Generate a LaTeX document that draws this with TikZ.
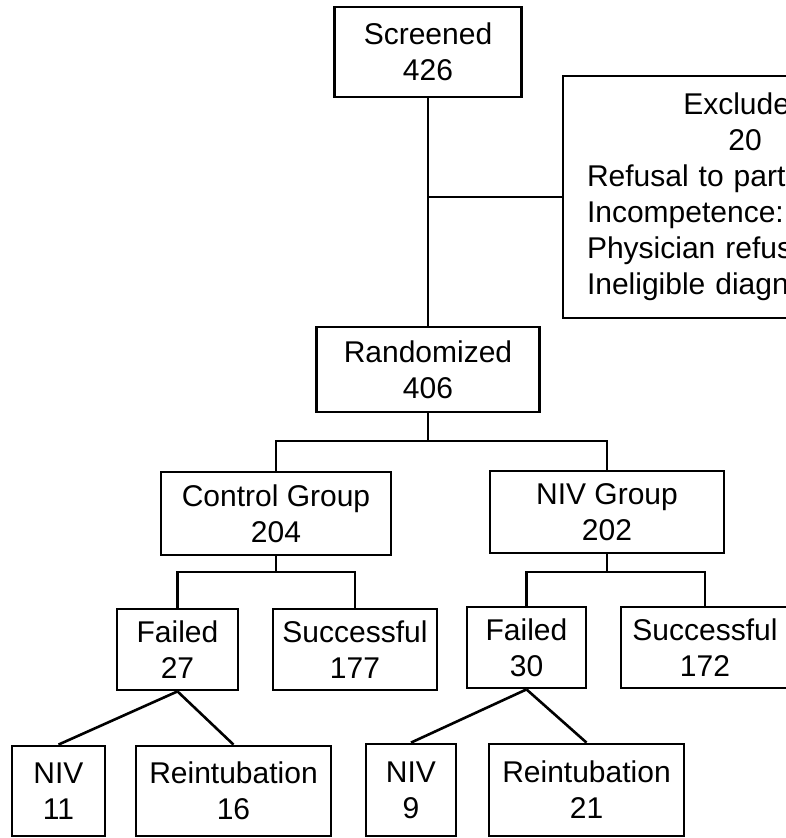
\documentclass[tikz,border=0pt]{standalone}
\usepackage{fontspec}
\setmainfont{Liberation Sans}
\begin{document}
\begin{tikzpicture}[x=1pt,y=-1pt,
  box/.style={draw=black,line width=2.8pt,inner sep=0pt,align=center,
    font=\fontsize{30}{36}\selectfont},
  conn/.style={draw=black,line width=2.6pt}]
\useasboundingbox (0,0) rectangle (786,838);
\clip (0,0) rectangle (786,838);
\node[box,minimum width=187pt,minimum height=90pt] (scr) at (428,52) {Screened\\426};
\node[box,minimum width=364pt,minimum height=242pt,text width=316pt,align=left] (excl) at (745,197)
  {\makebox[316pt]{Excluded}\\\makebox[316pt]{20}\\Refusal to participate\\Incompetence:\\Physician refusal\\Ineligible diagnosis};
\node[box,minimum width=223pt,minimum height=85pt] (rand) at (428,369.5) {Randomized\\406};
\node[box,minimum width=230pt,minimum height=83pt] (ctrl) at (276,513.5) {Control Group\\204};
\node[box,minimum width=234pt,minimum height=82pt] (niv) at (607,512) {NIV Group\\202};
\node[box,minimum width=121pt,minimum height=81pt] (f1) at (177.5,649.5) {Failed\\27};
\node[box,minimum width=164pt,minimum height=81pt] (s1) at (355,649.5) {Successful\\177};
\node[box,minimum width=119pt,minimum height=81pt] (f2) at (526.5,647.5) {Failed\\30};
\node[box,minimum width=168pt,minimum height=81pt] (s2) at (705,647.5) {Successful\\172};
\node[box,minimum width=93pt,minimum height=90pt] (n1) at (58.5,791) {NIV\\11};
\node[box,minimum width=195pt,minimum height=90pt] (r1) at (233.5,791) {Reintubation\\16};
\node[box,minimum width=90pt,minimum height=92pt] (n2) at (411,790) {NIV\\9};
\node[box,minimum width=195pt,minimum height=92pt] (r2) at (586.5,790) {Reintubation\\21};
\coordinate (j1) at (428,441);
\coordinate (j2) at (276,572);
\coordinate (j3) at (607,572);
\draw[conn] (scr.south) -- (rand.north);
\draw[conn] (scr.south |- excl.west) -- (excl.west);
\draw[conn] (rand.south) -- (j1);
\draw[conn] (ctrl.north) |- (j1) -| (niv.north);
\draw[conn] (ctrl.south) -- (j2);
\draw[conn] (f1.north) |- (j2) -| (s1.north);
\draw[conn] (niv.south) -- (j3);
\draw[conn] (f2.north) |- (j3) -| (s2.north);
\draw[conn] (f1.south) -- (n1.north);
\draw[conn] (f1.south) -- (r1.north);
\draw[conn] (f2.south) -- (n2.north);
\draw[conn] (f2.south) -- (r2.north);
\end{tikzpicture}
\end{document}
